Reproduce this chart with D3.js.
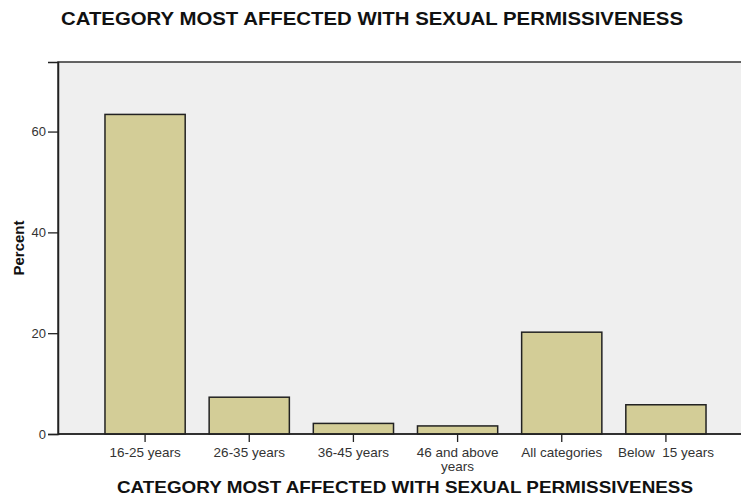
<!DOCTYPE html>
<html lang="en">
<head>
  <meta charset="UTF-8">
  <title>Category most affected</title>
  <script src="https://d3js.org/d3.v7.min.js"></script>
  <style>
    body { margin: 0; background: #fff; }
    text { font-family: "Liberation Sans", Arial, sans-serif; }
  </style>
</head>
<body>
  <svg id="chart"></svg>
  <script>
    const categories = ["16-25 years", "26-35 years", "36-45 years", "46 and above years", "All categories", "Below\u00a0 15 years"];
    const percents = [63.4, 7.3, 2.1, 1.6, 20.2, 5.8];
    const yTicks = [0, 20, 40, 60];
    const titleText = "CATEGORY MOST AFFECTED WITH SEXUAL PERMISSIVENESS";

    const W = 741, H = 495;
    const plot = {left: 58, top: 62, right: 745, bottom: 434};

    const svg = d3.select("#chart").attr("width", W).attr("height", H);

    // plot background
    svg.append("rect")
      .attr("x", plot.left).attr("y", plot.top)
      .attr("width", plot.right - plot.left).attr("height", plot.bottom - plot.top)
      .attr("fill", "#efefef")
      .attr("stroke", "#333").attr("stroke-width", 1.5);

    const x = d3.scaleBand().domain(categories).range([93, 718]).paddingInner(0.23).paddingOuter(0.115);
    const y = d3.scaleLinear().domain([0, 73.8]).range([plot.bottom, plot.top]);

    svg.append("g").selectAll("rect")
      .data(categories)
      .join("rect")
      .attr("x", d => x(d))
      .attr("width", x.bandwidth())
      .attr("y", (d, i) => y(percents[i]))
      .attr("height", (d, i) => y(0) - y(percents[i]))
      .attr("fill", "#d3cd97")
      .attr("stroke", "#222")
      .attr("stroke-width", 1.5);

    // y axis
    const yAxis = d3.axisLeft(y).tickValues(yTicks).tickSize(10).tickPadding(2);
    const gy = svg.append("g").attr("transform", `translate(${plot.left},0)`).call(yAxis);
    gy.select(".domain").attr("stroke", "#222").attr("stroke-width", 1.5);
    gy.selectAll(".tick line").attr("stroke", "#222").attr("stroke-width", 1.3);
    gy.selectAll(".tick text").attr("font-size", 13).attr("fill", "#333")
      .attr("font-family", "Liberation Sans, Arial, sans-serif");

    // x axis
    const xAxis = d3.axisBottom(x).tickSize(8).tickPadding(5).tickSizeOuter(0);
    const gx = svg.append("g").attr("transform", `translate(0,${plot.bottom})`).call(xAxis);
    gx.select(".domain").attr("stroke", "#222").attr("stroke-width", 1.5)
      .attr("d", `M${plot.left},0H${plot.right}`);
    gx.selectAll(".tick line").attr("stroke", "#222").attr("stroke-width", 1.3);
    gx.selectAll(".tick text").attr("font-size", 13.5).attr("fill", "#333")
      .attr("font-family", "Liberation Sans, Arial, sans-serif")
      .each(function(d) {
        const t = d3.select(this);
        if (d === "46 and above years") {
          t.text(null);
          t.append("tspan").attr("x", 0).attr("dy", "0.71em").text("46 and above");
          t.append("tspan").attr("x", 0).attr("dy", "1.1em").text("years");
          t.attr("dy", null);
        }
      });

    // title
    svg.append("text")
      .attr("x", 372).attr("y", 25)
      .attr("text-anchor", "middle")
      .attr("font-size", 18).attr("font-weight", "bold").attr("fill", "#111")
      .attr("textLength", 622).attr("lengthAdjust", "spacingAndGlyphs")
      .text(titleText);

    // x label
    svg.append("text")
      .attr("x", 405).attr("y", 493)
      .attr("text-anchor", "middle")
      .attr("font-size", 16.5).attr("font-weight", "bold").attr("fill", "#111")
      .attr("textLength", 576).attr("lengthAdjust", "spacingAndGlyphs")
      .text(titleText);

    // y label
    svg.append("text")
      .attr("transform", `translate(24,248) rotate(-90)`)
      .attr("text-anchor", "middle")
      .attr("font-size", 15).attr("font-weight", "bold").attr("fill", "#111")
      .text("Percent");
  </script>
</body>
</html>
